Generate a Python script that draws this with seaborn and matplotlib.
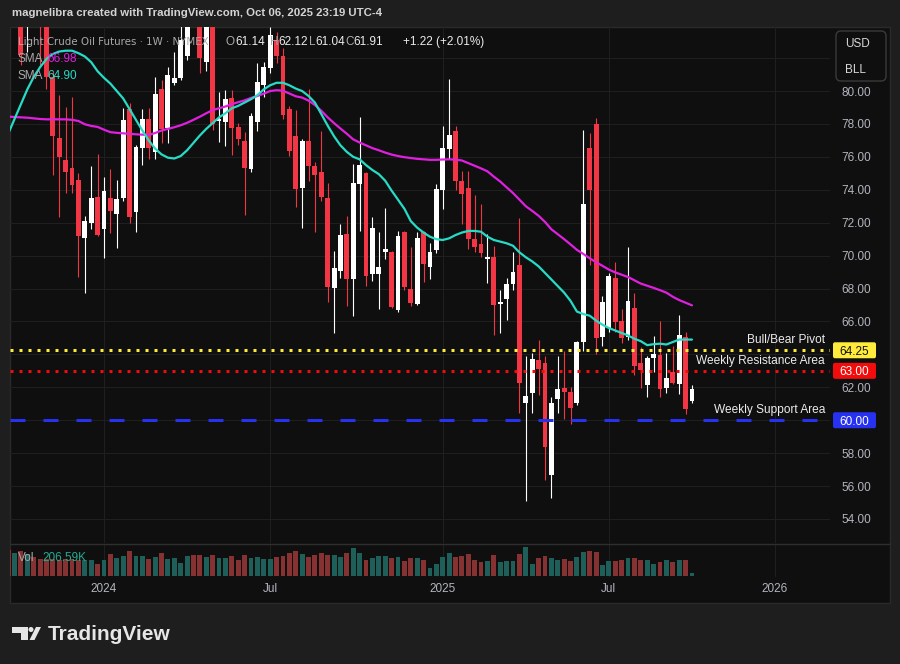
import numpy as np
import pandas as pd
import matplotlib
matplotlib.use('Agg')
import matplotlib.pyplot as plt
import matplotlib.transforms as mtransforms
from matplotlib.patches import Rectangle, FancyBboxPatch, Polygon, Circle
from matplotlib.lines import Line2D
import seaborn as sns

# ── Data (weekly bars, index 0 = week of 2024-01-01) ─────────
week = list(range(-15, 93))

opens = [90.5, 89.8, 90.2, 84.3, 87.4, 87.6, 84.6, 80.85, 77.16, 75.81,
         75.34, 74.59, 71.07, 72.0, 73.56, 71.62, 73.52, 72.53, 73.52, 78.91,
         72.65, 76.56, 78.32, 76.29, 80.12, 77.77, 80.49, 80.79, 82.1, 86.0,
         84.4, 81.76, 84.0, 78.15, 78.14, 79.57, 77.81, 76.96, 75.28, 78.12,
         80.38, 81.38, 83.1, 82.13, 78.89, 77.27, 74.13, 76.96, 75.44, 75.08,
         73.5, 68.05, 69.08, 71.31, 68.6, 74.37, 75.04, 68.9, 68.9, 70.24,
         70.22, 66.72, 71.43, 67.97, 67.08, 71.43, 69.33, 70.34, 73.99, 76.5,
         77.57, 74.53, 74.11, 71.0, 70.7, 69.77, 69.92, 67.06, 67.34, 68.29,
         69.43, 61.07, 61.65, 63.66, 63.45, 56.69, 61.31, 61.96, 61.71, 61.07,
         64.75, 76.54, 78.0, 65.03, 65.6, 68.64, 66.03, 65.03, 66.82, 63.47,
         62.14, 63.78, 63.96, 61.95, 62.93, 62.2, 65.06, 61.14]
highs = [91.2, 93.5, 90.4, 87.6, 89.3, 88.0, 85.2, 81.2, 79.76, 79.0,
         79.62, 75.0, 72.43, 75.46, 76.17, 74.8, 75.26, 74.59, 78.95, 79.25,
         76.7, 78.89, 78.95, 80.83, 80.67, 81.48, 82.39, 84.3, 86.6, 86.6,
         84.8, 84.8, 84.4, 79.96, 80.06, 80.06, 78.04, 77.53, 78.64, 81.68,
         81.78, 83.9, 83.6, 82.6, 79.1, 78.85, 77.08, 80.1, 75.69, 77.57,
         74.39, 70.28, 71.92, 72.41, 75.56, 78.4, 75.1, 72.35, 71.43, 72.89,
         70.3, 71.47, 71.51, 70.52, 71.43, 71.5, 70.77, 74.35, 77.9, 80.73,
         77.87, 75.14, 75.14, 73.68, 73.13, 71.31, 70.58, 67.91, 68.62, 70.22,
         72.3, 63.9, 64.1, 64.87, 63.9, 61.43, 63.9, 64.2, 62.0, 64.83,
         77.63, 77.45, 78.36, 67.54, 68.94, 69.61, 66.76, 70.52, 67.72, 64.45,
         63.9, 65.1, 66.03, 64.08, 64.5, 66.39, 65.36, 62.12]
lows = [88.6, 88.5, 81.6, 82.4, 85.6, 81.6, 80.1, 74.9, 72.37, 73.82,
        73.82, 68.72, 67.71, 71.62, 71.2, 69.83, 71.35, 70.44, 73.3, 71.96,
        71.41, 75.5, 75.85, 75.85, 76.82, 76.82, 80.36, 80.67, 81.9, 84.3,
        81.07, 81.2, 77.63, 76.92, 76.66, 76.11, 76.7, 72.47, 75.1, 77.59,
        79.66, 81.07, 81.68, 78.3, 76.05, 72.97, 71.7, 74.55, 71.45, 73.34,
        67.2, 65.28, 68.62, 66.96, 66.35, 71.51, 68.17, 68.48, 66.74, 69.77,
        66.82, 66.57, 67.91, 66.94, 67.0, 68.42, 68.6, 70.14, 72.85, 75.9,
        73.98, 71.92, 70.42, 70.24, 69.94, 68.36, 65.16, 65.28, 66.09, 67.91,
        60.46, 55.11, 60.46, 61.55, 56.37, 55.3, 60.46, 60.05, 59.77, 60.93,
        64.22, 69.41, 64.0, 64.5, 65.36, 65.36, 64.69, 64.9, 62.75, 61.96,
        61.41, 62.9, 61.41, 61.65, 62.2, 61.59, 60.38, 61.04]
closes = [89.9, 90.8, 82.2, 87.1, 87.2, 84.9, 80.85, 77.27, 76.01, 75.1,
          74.29, 71.19, 72.1, 73.52, 71.25, 73.92, 72.71, 73.44, 78.24, 72.37,
          76.62, 78.28, 76.52, 79.82, 77.71, 80.99, 80.79, 83.1, 86.0, 84.6,
          82.03, 84.2, 77.97, 78.3, 79.51, 77.77, 77.1, 75.34, 78.48, 80.57,
          81.48, 83.4, 82.15, 78.56, 76.38, 74.07, 76.96, 75.46, 74.9, 73.58,
          68.11, 69.23, 71.25, 68.6, 74.41, 75.5, 68.76, 71.68, 69.31, 70.4,
          66.88, 71.19, 68.09, 67.14, 71.07, 69.51, 70.24, 74.07, 76.56, 77.33,
          74.55, 73.74, 71.0, 70.54, 70.18, 69.94, 67.0, 67.18, 68.27, 69.0,
          62.26, 61.47, 63.72, 63.13, 58.35, 61.05, 61.9, 61.71, 60.74, 64.75,
          73.14, 73.99, 65.0, 67.18, 68.76, 65.97, 65.0, 67.24, 63.29, 63.05,
          63.78, 64.02, 61.89, 62.56, 62.26, 65.18, 60.69, 61.91]

# SMA values
sma_slow = [78.45, 78.42, 78.4, 78.38, 78.34, 78.3, 78.28, 78.28, 78.28, 78.28,
            78.25, 78.18, 77.98, 77.88, 77.82, 77.65, 77.5, 77.46, 77.43, 77.4,
            77.37, 77.35, 77.33, 77.45, 77.6, 77.7, 77.8, 77.92, 78.07, 78.25,
            78.44, 78.65, 78.84, 78.95, 79.06, 79.2, 79.32, 79.43, 79.58, 79.7,
            79.84, 80.0, 80.05, 80.02, 79.85, 79.68, 79.6, 79.42, 79.15, 78.8,
            78.4, 78.05, 77.72, 77.4, 77.06, 76.87, 76.7, 76.53, 76.4, 76.26,
            76.14, 76.05, 75.98, 75.93, 75.88, 75.85, 75.82, 75.82, 75.84, 75.85,
            75.83, 75.78, 75.62, 75.46, 75.3, 75.12, 74.8, 74.5, 74.15, 73.8,
            73.4, 73.0, 72.72, 72.42, 72.05, 71.6, 71.3, 71.0, 70.68, 70.35,
            70.1, 69.84, 69.6, 69.38, 69.15, 68.98, 68.84, 68.7, 68.5, 68.3,
            68.17, 68.04, 67.9, 67.75, 67.5, 67.3, 67.14, 66.98]
sma_fast = [77.4, 78.3, 79.2, 80.1, 80.85, 81.45, 81.95, 82.25, 82.4, 82.45,
            82.45, 82.3, 82.1, 81.75, 81.2, 80.8, 80.45, 80.0, 79.55, 78.9,
            78.25, 77.6, 77.0, 76.5, 76.15, 75.95, 75.9, 76.05, 76.4, 76.85,
            77.3, 77.7, 78.05, 78.4, 78.65, 78.95, 79.1, 79.3, 79.5, 79.75,
            80.1, 80.35, 80.5, 80.5, 80.35, 80.15, 80.0, 79.7, 79.3, 78.6,
            77.9, 77.25, 76.7, 76.3, 76.0, 75.85, 75.5, 75.2, 74.95, 74.55,
            73.95, 73.4, 72.85, 72.1, 71.7, 71.4, 71.15, 71.0, 70.95, 71.05,
            71.25, 71.4, 71.5, 71.5, 71.45, 71.15, 70.95, 70.85, 70.75, 70.6,
            70.2, 69.9, 69.65, 69.35, 68.95, 68.55, 68.15, 67.75, 67.25, 66.6,
            66.45, 66.35, 66.05, 65.8, 65.6, 65.45, 65.3, 65.15, 64.95, 64.8,
            64.56, 64.62, 64.65, 64.6, 64.75, 64.9, 64.9, 64.9]

# volume in thousands of contracts
volume_k = [1791, 1585, 1723, 1516, 1309, 1171, 1171, 1171, 1102, 1171,
            1171, 1102, 1102, 1102, 827, 1102, 1516, 1240, 1378, 1723,
            1378, 1378, 1171, 1309, 1585, 1171, 1240, 896, 1378, 1447,
            1447, 1309, 1447, 1240, 1240, 1378, 1102, 1447, 1240, 1309,
            1171, 1171, 1309, 1378, 1585, 1723, 1516, 1309, 1447, 1585,
            1447, 1447, 1309, 1585, 1929, 1585, 1102, 1240, 1378, 1378,
            1240, 1309, 1034, 1240, 1240, 1102, 551, 827, 1309, 1585,
            1309, 1378, 1516, 1102, 965, 1034, 1447, 965, 1034, 1034,
            1516, 1998, 827, 1240, 1378, 1240, 1102, 1171, 1034, 1309,
            1654, 1723, 1654, 758, 1034, 1034, 1102, 1240, 1240, 1102,
            1102, 827, 965, 1102, 965, 1102, 1102, 206.59]

x_tick_pos = [0, 26, 53, 79, 105]
x_tick_lab = ['2024', 'Jul', '2025', 'Jul', '2026']
price_grid = list(range(54, 84, 2))
hidden_labels = [82, 64, 60]

level_values = [64.25, 63.00, 60.00]
level_names = ['Bull/Bear Pivot', 'Weekly Resistance Area', 'Weekly Support Area']

df = pd.DataFrame({'week': week, 'open': opens, 'high': highs, 'low': lows,
                   'close': closes, 'sma_slow': sma_slow, 'sma_fast': sma_fast,
                   'volume': volume_k})
df['up'] = df['close'] >= df['open']

# ── Style ────────────────────────────────────────────────────
W, H = 900, 664
BG_OUT, BG_IN = '#1e1e1e', '#0f0f0f'
UP, DN = '#ffffff', '#f23645'
VUP, VDN = '#1e5f5a', '#873232'
TEAL, MAG = '#26dcc6', '#e01fe0'
GRAY, WHITE, AXC = '#a9a9a9', '#ececec', '#b2b5be'
GRID = '#1f1f1f'

sns.set_theme(style='dark')
plt.rcParams['font.family'] = ['Liberation Sans', 'DejaVu Sans']

fig = plt.figure(figsize=(9, 6.64), dpi=100, facecolor=BG_OUT)
PX = mtransforms.Affine2D().scale(1 / W, -1 / H).translate(0, 1) + fig.transFigure


def box(x0, y0, x1, y1):
    return [x0 / W, 1 - y1 / H, (x1 - x0) / W, (y1 - y0) / H]


fig.add_artist(Rectangle((10, 27), 880, 576, transform=PX, fc=BG_IN,
                         ec='#2a2a2a', lw=1, zorder=-1))

ax = fig.add_axes(box(10, 27, 830, 543))
axv = fig.add_axes(box(10, 544, 830, 577), sharex=ax)
for a in (ax, axv):
    a.set_facecolor('none')
    for s in a.spines.values():
        s.set_visible(False)

# ── Candles ──────────────────────────────────────────────────
cols = np.where(df['up'], UP, DN)
ax.vlines(df['week'], df['low'], df['high'], colors=cols, lw=0.8, zorder=2)
body = (df['close'] - df['open']).abs().clip(lower=0.07)
ax.bar(df['week'], body, bottom=df[['open', 'close']].min(axis=1),
       width=0.76, color=cols, linewidth=0, zorder=2)

# ── SMAs ─────────────────────────────────────────────────────
sns.lineplot(data=df, x='week', y='sma_slow', ax=ax, color=MAG, lw=1.6,
             legend=False, zorder=3)
sns.lineplot(data=df, x='week', y='sma_fast', ax=ax, color=TEAL, lw=1.6,
             legend=False, zorder=3)
ax.set_xlabel('')
ax.set_ylabel('')

# ── Levels ───────────────────────────────────────────────────
ax.axhline(level_values[0], color='#ffeb3b', lw=2.16, ls=(0, (1, 2)), zorder=4)
ax.axhline(level_values[1], color='#f20d0d', lw=2.16, ls=(0, (1, 2)), zorder=4)
ax.axhline(level_values[2], color='#2632f0', lw=2.16, ls=(0, (5, 6)), zorder=4)

ax.set_xlim(-14.71, 113.6)
ax.set_ylim(52.54, 83.89)

ax.set_yticks(price_grid)
ax.set_yticklabels(['' if v in hidden_labels else f'{v:.2f}' for v in price_grid])
ax.yaxis.tick_right()
ax.tick_params(axis='y', length=0, pad=8, labelsize=8.5, labelcolor=AXC)
ax.set_xticks(x_tick_pos)
ax.tick_params(axis='x', length=0, labelbottom=False)
ax.grid(True, color=GRID, lw=0.75)

# ── Volume ───────────────────────────────────────────────────
axv.bar(df['week'], df['volume'], width=0.76,
        color=np.where(df['up'], VUP, VDN), linewidth=0)
axv.set_ylim(-90, 2184)
axv.set_yticks([])
axv.set_xticks(x_tick_pos)
axv.set_xticklabels(x_tick_lab)
axv.tick_params(axis='x', length=0, pad=4.5, labelsize=8.5, labelcolor=AXC)
axv.grid(True, axis='x', color=GRID, lw=0.75)
axv.grid(False, axis='y')
axv.set_xlim(-14.71, 113.6)

fig.add_artist(Line2D([10, 890], [543.5, 543.5], transform=PX,
                      color='#2e2e2e', lw=1))

# ── Price tags + level labels ────────────────────────────────
tag_fc = ['#ffeb3b', '#f20d0d', '#2632f0']
tag_tc = ['#131313', '#ffffff', '#ffffff']
for v, fc, tc in zip(level_values, tag_fc, tag_tc):
    ypx = H - ax.transData.transform((0, v))[1]
    fig.add_artist(FancyBboxPatch((833, ypx - 8), 43, 16,
                                  boxstyle='round,pad=0,rounding_size=2',
                                  transform=PX, fc=fc, ec='none', zorder=2))
    fig.text(854.5, ypx, f'{v:.2f}', transform=PX, ha='center',
             va='center_baseline', color=tc, fontsize=8.5)
label_y = [340, 361, 410]
for name, yy in zip(level_names, label_y):
    fig.text(825, yy, name, transform=PX, ha='right', va='center',
             color=WHITE, fontsize=8.6)

# USD / BLL box
fig.add_artist(FancyBboxPatch((836, 31), 50, 50,
                              boxstyle='round,pad=0,rounding_size=5',
                              transform=PX, fc='none', ec='#3a3a3a', lw=1))
fig.text(845, 44, 'USD', transform=PX, va='center', color='#d8d8d8', fontsize=8.5)
fig.text(845, 70, 'BLL', transform=PX, va='center', color='#d8d8d8', fontsize=8.5)

# ── Header / legend texts ────────────────────────────────────
renderer = fig.canvas.get_renderer()


def seq_text(x, y, parts, size=8.5, family=None):
    for s, c in parts:
        kw = {'family': family} if family else {}
        t = fig.text(x, y, s, transform=PX, color=c, fontsize=size,
                     va='center', ha='left', **kw)
        x += t.get_window_extent(renderer).width
    return x


fig.text(12, 13, 'magnelibra created with TradingView.com, Oct 06, 2025 23:19 UTC-4',
         transform=PX, va='center', color='#d4d4d4', fontsize=8.2, fontweight='bold')

seq_text(18, 42, [('Light Crude Oil Futures · 1W · NYMEX', GRAY)],
         size=7.4, family='DejaVu Sans')
seq_text(226, 42, [('O', GRAY), ('61.14', WHITE)])
seq_text(270, 42, [('H', GRAY), ('62.12', WHITE)])
seq_text(309, 42, [('L', GRAY), ('61.04', WHITE)])
seq_text(345, 42, [('C', GRAY), ('61.91', WHITE)])
seq_text(403, 42, [('+1.22 (+2.01%)', WHITE)])
seq_text(18, 59, [('SMA', GRAY)])
seq_text(47, 59, [('66.98', MAG)])
seq_text(18, 76, [('SMA', GRAY)])
seq_text(47, 76, [('64.90', TEAL)])
seq_text(18, 558, [('Vol', GRAY)])
seq_text(42, 558, [('206.59K', '#22ab94')])

# ── TradingView logo ─────────────────────────────────────────
LOGO = '#e6e6e6'
fig.add_artist(Polygon([(11.5, 627), (27.5, 627), (27.5, 640), (20.5, 640),
                        (20.5, 632.5), (11.5, 632.5)], closed=True,
                       transform=PX, fc=LOGO, ec='none'))
fig.add_artist(Circle((31, 629.5), 2.5, transform=PX, fc=LOGO, ec='none'))
fig.add_artist(Polygon([(29.5, 640), (34.5, 640), (41, 627), (36, 627)],
                       closed=True, transform=PX, fc=LOGO, ec='none'))
fig.text(48, 634, 'TradingView', transform=PX, va='center', color=LOGO,
         fontsize=15, fontweight='bold')

plt.savefig('out.png', dpi=100, facecolor=fig.get_facecolor())
